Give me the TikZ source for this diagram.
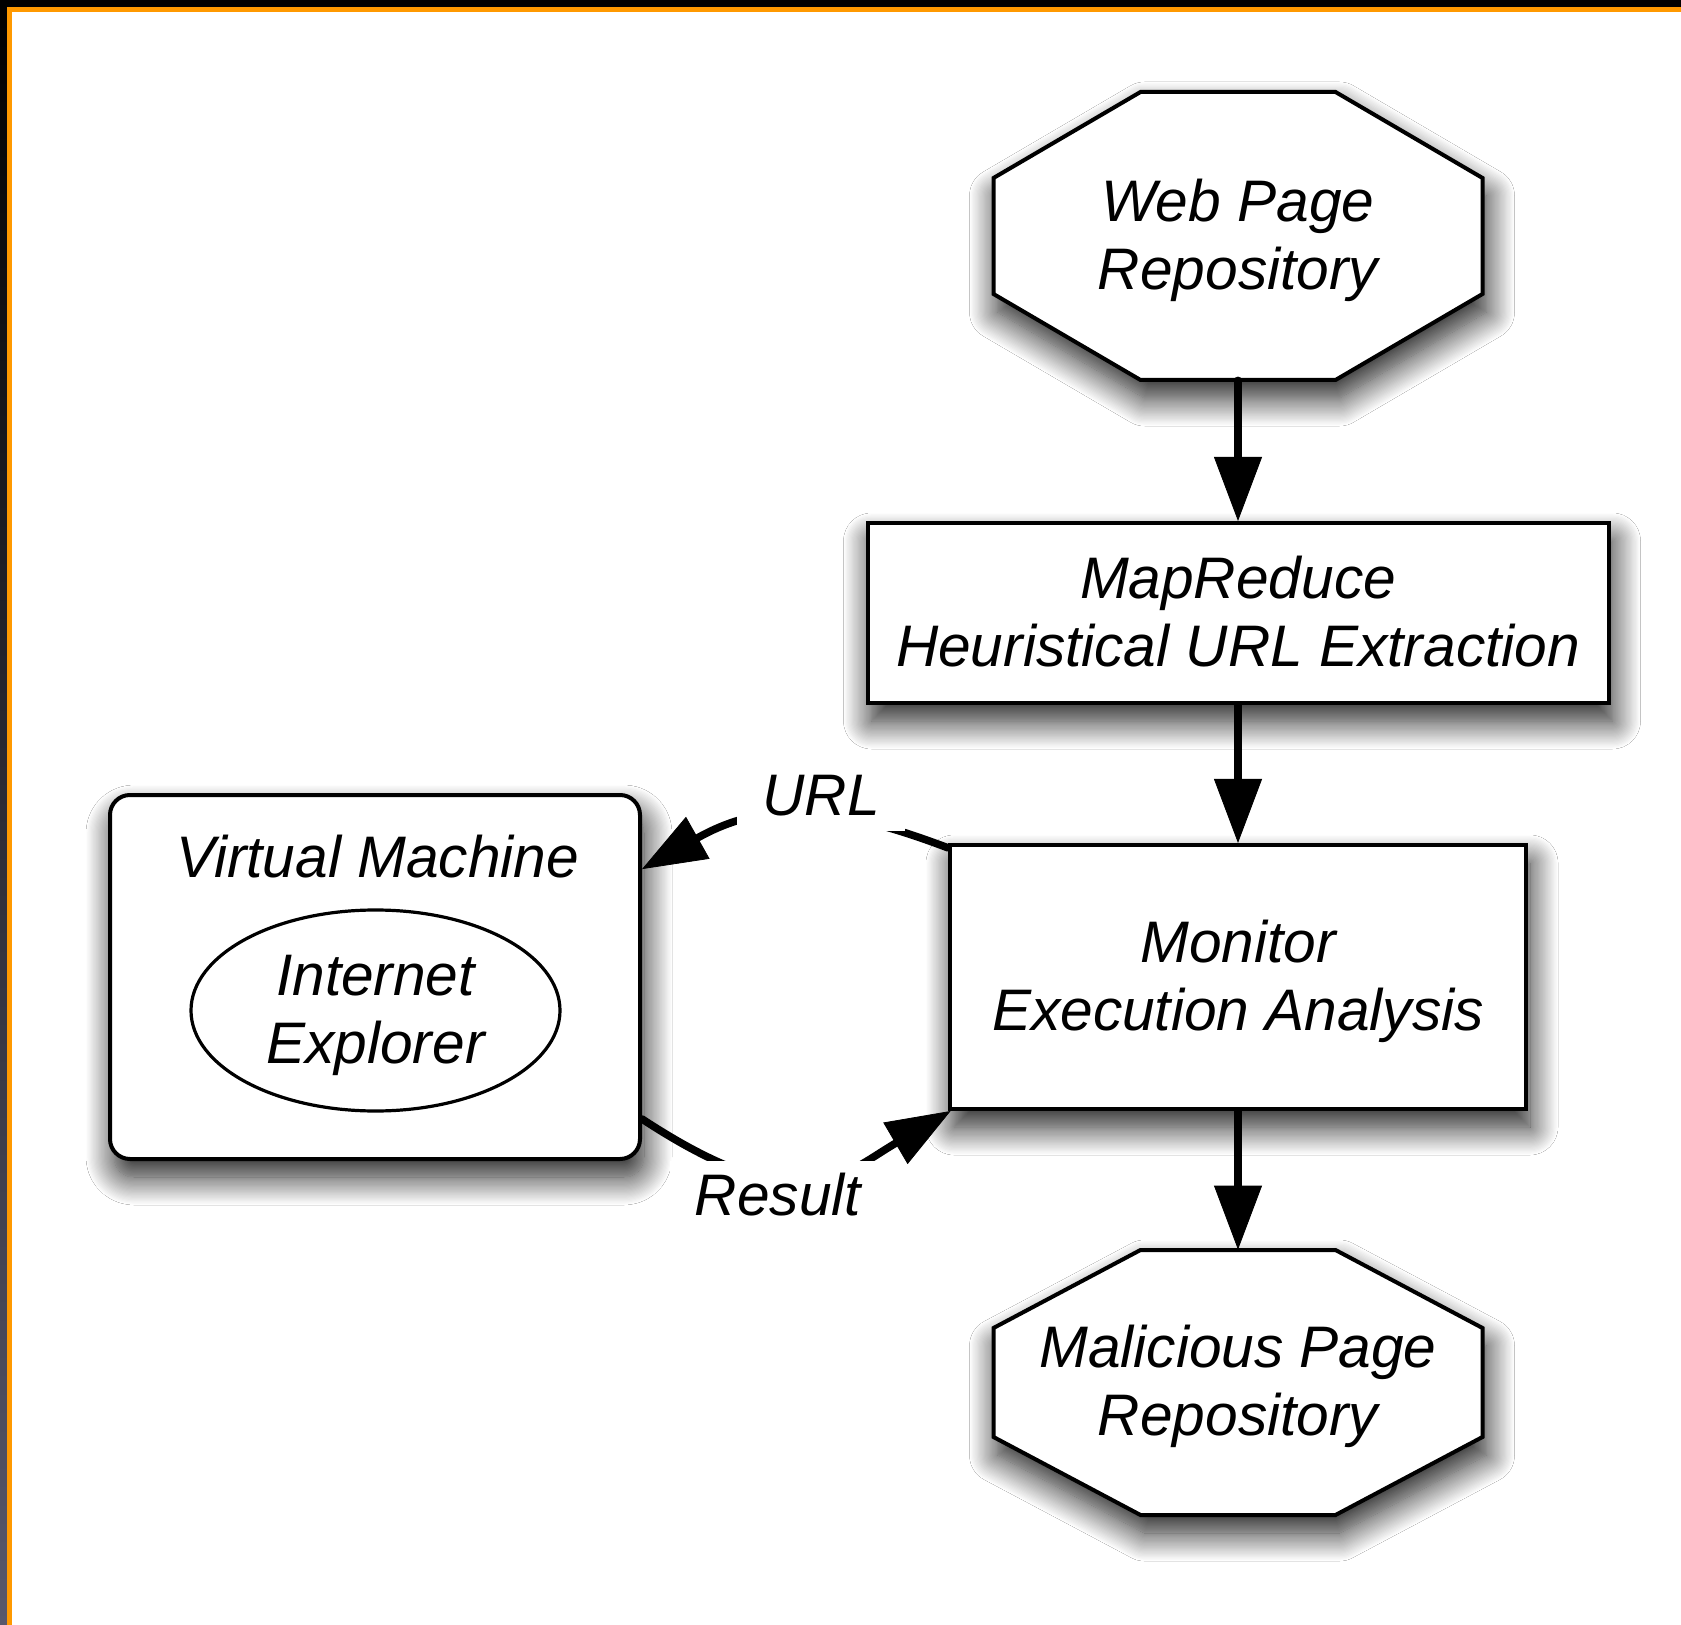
\documentclass[tikz,border=0pt]{standalone}
\usepackage{fontspec}
\setmainfont{Liberation Sans}
\usetikzlibrary{arrows.meta,shadows.blur,calc,shapes.geometric}

\definecolor{frameorange}{RGB}{255,153,0}
\definecolor{framegrey}{RGB}{88,88,108}

\tikzset{
  every node/.style={font=\fontsize{29.3}{34}\selectfont\itshape},
  softshadow/.style={blur shadow={shadow xshift=2pt, shadow yshift=-9pt,
      shadow blur radius=14pt, shadow blur steps=24, shadow opacity=90}},
  boxnode/.style={draw, line width=2pt, fill=white, softshadow},
  octnode/.style={inner sep=0pt},
  octoutline/.style={draw, line width=2pt, fill=white, line join=miter, softshadow},
  conn/.style={line width=3.8pt, line cap=round, draw=black, fill opacity=1,
      -{Triangle[width=24pt,length=32pt,line width=0.4pt,fill=black,color=black]}},
  lbl/.style={fill=white, inner xsep=12.5pt, inner ysep=2pt,
      text height=25pt, text depth=6pt, anchor=base},
}

% two centred lines, set a little lower than the node centre
\newcommand\twoline[2]{\raisebox{-2.8pt}[\height][\depth]{%
  \begin{tabular}{@{}c@{}}#1\\#2\end{tabular}}}

% octagon outline: centre, half width, half height, horizontal cut, vertical cut
\newcommand\drawoctagon[5]{%
  \path[octoutline]
    ($(#1)+(-#2+#4,-#3)$) -- ($(#1)+(#2-#4,-#3)$) --
    ($(#1)+(#2,-#3+#5)$) -- ($(#1)+(#2,#3-#5)$) --
    ($(#1)+(#2-#4,#3)$) -- ($(#1)+(-#2+#4,#3)$) --
    ($(#1)+(-#2,#3-#5)$) -- ($(#1)+(-#2,-#3+#5)$) -- cycle;}

\begin{document}
\begin{tikzpicture}[x=0.5pt, y=-0.5pt]
  \useasboundingbox (0,0) rectangle (1681,1625);

  % page and frame
  \fill[white] (0,0) rectangle (1681,1625);
  \shade[top color=black, bottom color=framegrey] (0,0) rectangle (7,1625);
  \fill[black] (0,0) rectangle (1681,7);
  \fill[frameorange] (7,7) rectangle (1681,12);
  \fill[frameorange] (7,7) rectangle (12,1625);

  % repositories (octagons)
  \coordinate (wpc) at (1238,236);
  \drawoctagon{wpc}{244.5}{144}{147}{86}
  \node[octnode, minimum width=244.5pt, minimum height=144pt] (wp) at (wpc)
    {\twoline{Web Page}{Repository}};

  \coordinate (malc) at (1238,1382.5);
  \drawoctagon{malc}{244.5}{132.5}{147}{78}
  \node[octnode, minimum width=244.5pt, minimum height=132.5pt] (mal) at (malc)
    {\twoline{Malicious Page}{Repository}};

  % processing stages
  \node[boxnode, minimum width=370.5pt, minimum height=90pt] (mr) at (1238,613)
    {\twoline{MapReduce}{Heuristical URL Extraction}};
  \node[boxnode, minimum width=288pt, minimum height=132pt] (mon) at (1238,977)
    {\twoline{Monitor}{Execution Analysis}};

  % virtual machine with the browser inside
  \node[boxnode, rounded corners=10pt, minimum width=265pt, minimum height=182pt] (vm)
    at (375,977) {};
  \node[anchor=base] (vmtitle) at (377.5,877) {Virtual Machine};
  \node[ellipse, draw, line width=1.6pt, fill=white, inner sep=0pt,
        minimum width=184.5pt, minimum height=100.5pt] (ie) at (375.5,1010.5)
    {\twoline{Internet}{Explorer}};

  % connectors
  \draw[conn] (wp.south) -- (mr.north);
  \draw[conn] (mr.south) -- (mon.north);
  \draw[conn] (mon.south) -- (mal.north);
  \draw[conn] (mon.156) .. controls (835,805) and (765,800) .. (vm.22)
    node[lbl] (urllbl) at (821,815) {URL};
  \draw[conn] (vm.-28) .. controls (802,1224) and (843,1174) .. (mon.205)
    node[lbl] (reslbl) at (778,1215) {Result};
\end{tikzpicture}
\end{document}
